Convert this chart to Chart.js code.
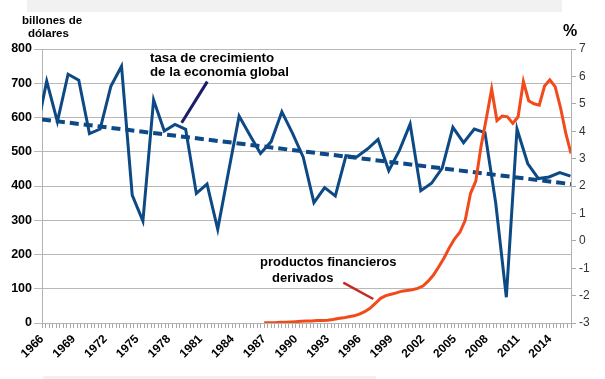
<!DOCTYPE html>
<html><head><meta charset="utf-8">
<script src="https://cdn.jsdelivr.net/npm/chart.js@4.4.1/dist/chart.umd.min.js"></script>
<style>
html,body{margin:0;padding:0;background:#fff;}
#wrap{position:relative;width:605px;height:379px;overflow:hidden;font-family:"Liberation Sans",Arial,sans-serif;}
canvas{position:absolute;left:0;top:0;}
.t{position:absolute;white-space:nowrap;font-weight:bold;color:#000;line-height:1;}
.bar{position:absolute;background:#f1f1f1;}
</style></head><body>
<div id="wrap">
<div class="bar" style="left:27px;top:0;width:535px;height:12px"></div>
<div class="bar" style="left:43px;top:376px;width:333px;height:3px"></div>
<canvas id="c" width="605" height="379"></canvas>
<div class="t" style="left:22px;top:15px;font-size:11.5px">billones de</div>
<div class="t" style="left:28px;top:27.5px;font-size:11.5px">dólares</div>
<div class="t" style="left:563px;top:22.5px;font-size:16px">%</div>
<div class="t" style="left:150px;top:50.5px;font-size:13.3px">tasa de crecimiento</div>
<div class="t" style="left:150px;top:64.5px;font-size:13.3px">de la economía global</div>
<div class="t" style="left:260px;top:255px;font-size:13px">productos financieros</div>
<div class="t" style="left:272px;top:270.5px;font-size:13px">derivados</div>
</div>
<script>
// Tasa de crecimiento de la economía global (%)
const growthYears = [1965,1966,1967,1968,1969,1970,1971,1972,1973,1974,1975,1976,1977,1978,1979,1980,1981,1982,1983,1984,1985,1986,1987,1988,1989,1990,1991,1992,1993,1994,1995,1996,1997,1998,1999,2000,2001,2002,2003,2004,2005,2006,2007,2008,2009,2010,2011,2012,2013,2014,2015];
const growthValues = [3.9,5.83,4.35,6.08,5.86,3.91,4.08,5.64,6.37,1.67,0.72,5.14,4.01,4.25,4.07,1.73,2.07,0.42,2.5,4.55,3.86,3.19,3.62,4.71,3.92,3.05,1.39,1.94,1.64,3.11,3.06,3.35,3.70,2.56,3.30,4.26,1.83,2.10,2.65,4.14,3.58,4.08,3.95,1.4,-2.06,4.08,2.82,2.27,2.33,2.49,2.36];
// Tendencia lineal de la tasa de crecimiento (%)
const trendYears = [1966, 2016];
const trendValues = [4.43, 2.07];
// Productos financieros derivados (billones de dólares), semestral
const derivYears = [1987,1987.5,1988,1988.5,1989,1989.5,1990,1990.5,1991,1991.5,1992,1992.5,1993,1993.5,1994,1994.5,1995,1995.5,1996,1996.5,1997,1997.5,1998,1998.5,1999,1999.5,2000,2000.5,2001,2001.5,2002,2002.5,2003,2003.5,2004,2004.5,2005,2005.5,2006,2006.5,2007,2007.5,2008,2008.5,2009,2009.5,2010,2010.5,2011,2011.5,2012,2012.5,2013,2013.5,2014,2014.5,2015,2015.5,2016];
const derivValues = [1,1,1,2,2,3,4,5,6,6,7,7,8,10,13,15,18,21,26,33,43,57,72,80,84,88,93,95,97,101,108,122,140,164,190,220,246,265,300,378,414,516,598,683,591,604,602,583,602,705,649,640,636,692,710,690,630,555,495];
// Etiquetas del eje X
const yearLabels = [1966,1969,1972,1975,1978,1981,1984,1987,1990,1993,1996,1999,2002,2005,2008,2011,2014];

const zip = (xs, ys) => xs.map((x, i) => ({x: x, y: ys[i]}));

const callouts = {
  id: 'callouts',
  afterDatasetsDraw(chart) {
    const ctx = chart.ctx, s = chart.scales;
    ctx.save();
    ctx.lineCap = 'butt';
    ctx.strokeStyle = '#1b1b6b'; ctx.lineWidth = 3;
    ctx.beginPath();
    ctx.moveTo(s.x.getPixelForValue(1981.62), s.y2.getPixelForValue(5.81));
    ctx.lineTo(s.x.getPixelForValue(1979.2), s.y2.getPixelForValue(4.31));
    ctx.stroke();
    ctx.strokeStyle = '#c42a24'; ctx.lineWidth = 2.5;
    ctx.beginPath();
    ctx.moveTo(s.x.getPixelForValue(1994.48), s.y.getPixelForValue(117.7));
    ctx.lineTo(s.x.getPixelForValue(1997.31), s.y.getPixelForValue(70));
    ctx.stroke();
    ctx.restore();
  }
};

new Chart(document.getElementById('c'), {
  type: 'line',
  data: {
    datasets: [
      { label: 'productos financieros derivados', data: zip(derivYears, derivValues), xAxisID: 'x', yAxisID: 'y',
        borderColor: '#f24a1a', borderWidth: 3, pointRadius: 0, tension: 0, fill: false },
      { label: 'tasa de crecimiento', data: zip(growthYears, growthValues), xAxisID: 'xb', yAxisID: 'y2',
        borderColor: '#0d4a85', borderWidth: 3, pointRadius: 0, tension: 0, fill: false },
      { label: 'tendencia', data: zip(trendYears, trendValues), xAxisID: 'x', yAxisID: 'y2',
        borderColor: '#0d4a85', borderWidth: 4, borderDash: [9, 5], pointRadius: 0, fill: false }
    ]
  },
  options: {
    responsive: false,
    animation: false,
    layout: { padding: { top: 49, left: 0, right: 0, bottom: 0 } },
    plugins: { legend: { display: false }, tooltip: { enabled: false } },
    scales: {
      x: {
        type: 'linear', position: 'bottom', min: 1966, max: 2016,
        afterFit: (sc) => { sc.height = 56; },
        ticks: {
          stepSize: 1/3, autoSkip: false, minRotation: 45, maxRotation: 45, padding: 4,
          color: '#000', font: { family: '"Liberation Sans", Arial, sans-serif', size: 12, weight: 'bold' },
          callback: (v) => {
            const t = Math.round(v * 3);
            if (t % 3 !== 0) return '';
            const yr = t / 3;
            return yearLabels.includes(yr) ? String(yr) : '';
          }
        },
        grid: { drawOnChartArea: false, tickLength: 5, color: '#a8a8a8' },
        border: { color: '#b3b3b3' }
      },
      xb: { type: 'linear', display: false, min: 1965.56, max: 2015.05 },
      y: {
        position: 'left', min: 0, max: 800,
        afterFit: (sc) => { sc.width = 42; },
        ticks: { stepSize: 100, padding: 2, color: '#000', font: { family: '"Liberation Sans", Arial, sans-serif', size: 12.5, weight: 'bold' } },
        grid: { color: '#b8b8b8', tickLength: 8 },
        border: { color: '#b3b3b3' }
      },
      y2: {
        position: 'right', min: -3, max: 7,
        afterFit: (sc) => { sc.width = 34; },
        ticks: { stepSize: 1, padding: 3, color: '#333', font: { family: '"Liberation Sans", Arial, sans-serif', size: 12 } },
        grid: { drawOnChartArea: false, tickLength: 5, color: '#a8a8a8' },
        border: { color: '#b3b3b3' }
      }
    }
  },
  plugins: [callouts]
});
</script>
</body></html>
